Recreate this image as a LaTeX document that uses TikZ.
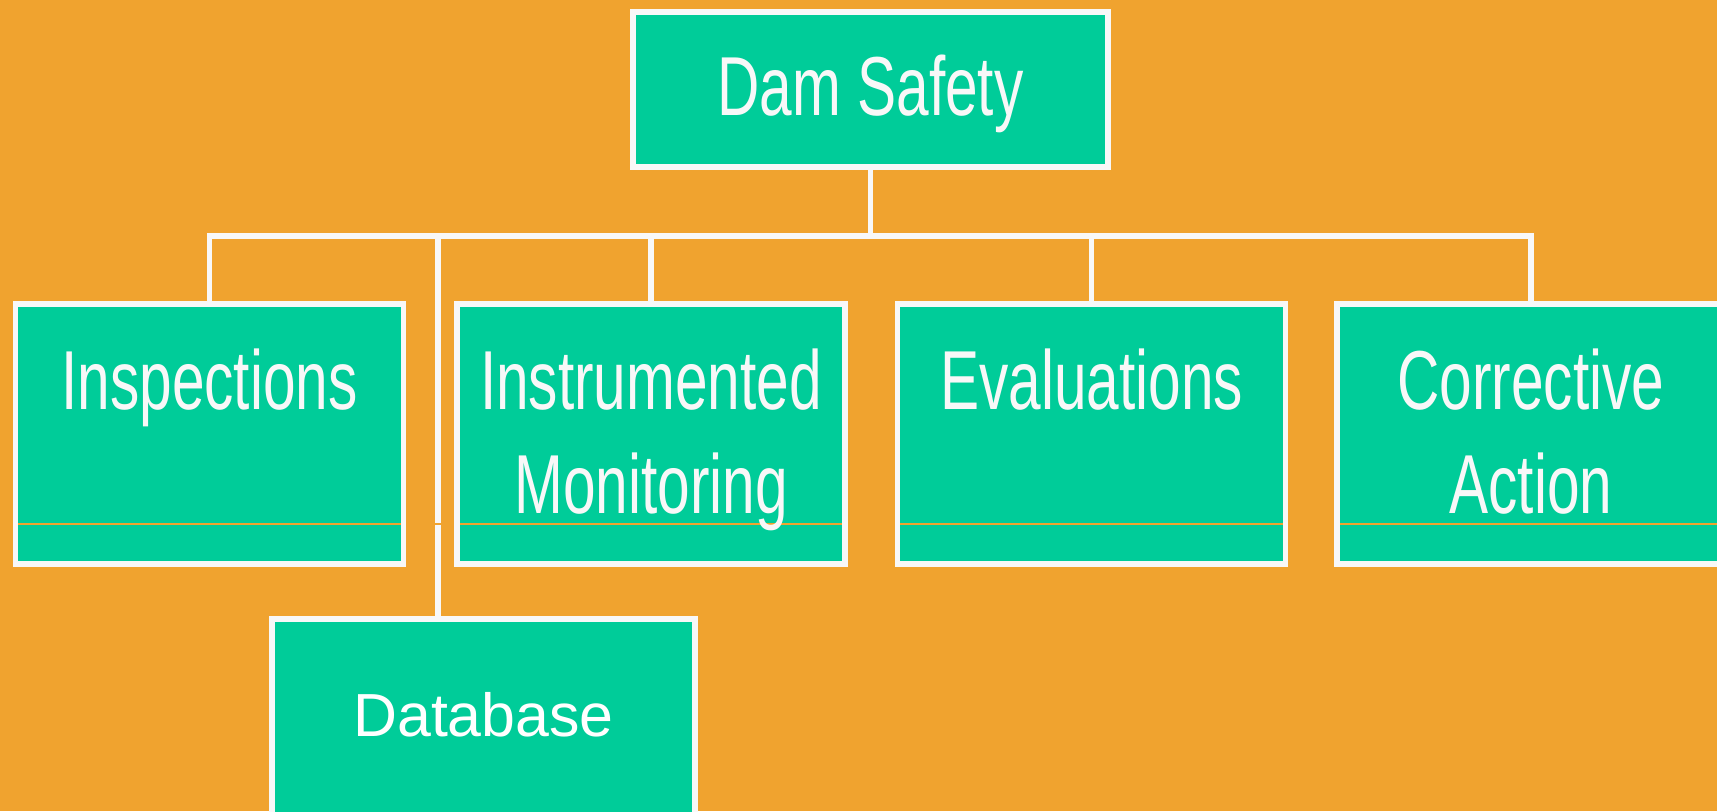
\documentclass[tikz,border=0pt]{standalone}
\usepackage{fontspec}
\setmainfont{Liberation Sans}
\newfontfamily\narrowsf{Liberation Sans}[FakeStretch=0.70]
\usepackage{tikz}
\definecolor{damorange}{HTML}{F0A32F}
\definecolor{damgreen}{HTML}{00CC99}
\definecolor{rimwhite}{HTML}{F8F8F8}

\begin{document}
\begin{tikzpicture}[x=0.01cm, y=-0.01cm,
  panel/.style={fill=damgreen, inner sep=0pt, outer sep=0pt},
  rim/.style={draw=rimwhite, line width=1.6pt},
  link/.style={draw=rimwhite, line width=1.7pt},
  bigtext/.style={text=rimwhite, font=\narrowsf\fontsize{23.8}{29.6}\selectfont, align=center, inner sep=0pt},
  smalltext/.style={text=white, font=\fontsize{17.3}{20}\selectfont, inner sep=0pt}]
  \fill[damorange] (0,0) rectangle (1717,811);
  \useasboundingbox (0,0) rectangle (1717,811);

  \node[panel, minimum width=4.75cm, minimum height=1.55cm, bigtext, text height=0.6cm, text depth=0.09cm] (dam) at (870.5,89.5) {Dam Safety};
  \node[panel, minimum width=3.88cm, minimum height=2.6cm] (insp) at (209.5,434) {};
  \node[panel, minimum width=3.88cm, minimum height=2.6cm] (inst) at (651,434) {};
  \node[panel, minimum width=3.88cm, minimum height=2.6cm] (eval) at (1091.5,434) {};
  \node[panel, minimum width=3.88cm, minimum height=2.6cm] (corr) at (1531,434) {};
  \node[panel, minimum width=4.23cm, minimum height=2.6cm] (dbase) at (483.5,749) {};

  % connectors
  \coordinate (bus) at (0,236);
  \draw[link] (insp.north) -- (insp.north |- bus) -- (corr.north |- bus) -- (corr.north);
  \foreach \n in {dam.south, inst.north, eval.north}
    \draw[link] (\n) -- (\n |- bus);
  \coordinate (dbtap) at (438,236);
  \draw[link] (dbtap) -- (dbtap |- dbase.north);

  \draw[damorange, line width=0.3pt] (0,524) -- (1717,524);

  \node[bigtext, anchor=north] (inspT) at ([yshift=-0.44cm]insp.north) {Inspections};
  \node[bigtext, anchor=north] (instT) at ([yshift=-0.44cm]inst.north) {Instrumented\\Monitoring};
  \node[bigtext, anchor=north] (evalT) at ([yshift=-0.44cm]eval.north) {Evaluations};
  \node[bigtext, anchor=north] (corrT) at ([yshift=-0.44cm]corr.north) {Corrective\\Action};
  \node[smalltext, anchor=north] (dbaseT) at ([yshift=-0.73cm]dbase.north) {Database};

  \foreach \n in {dam, insp, inst, eval, corr, dbase}
    \draw[rim] (\n.south west) rectangle (\n.north east);
\end{tikzpicture}
\end{document}
